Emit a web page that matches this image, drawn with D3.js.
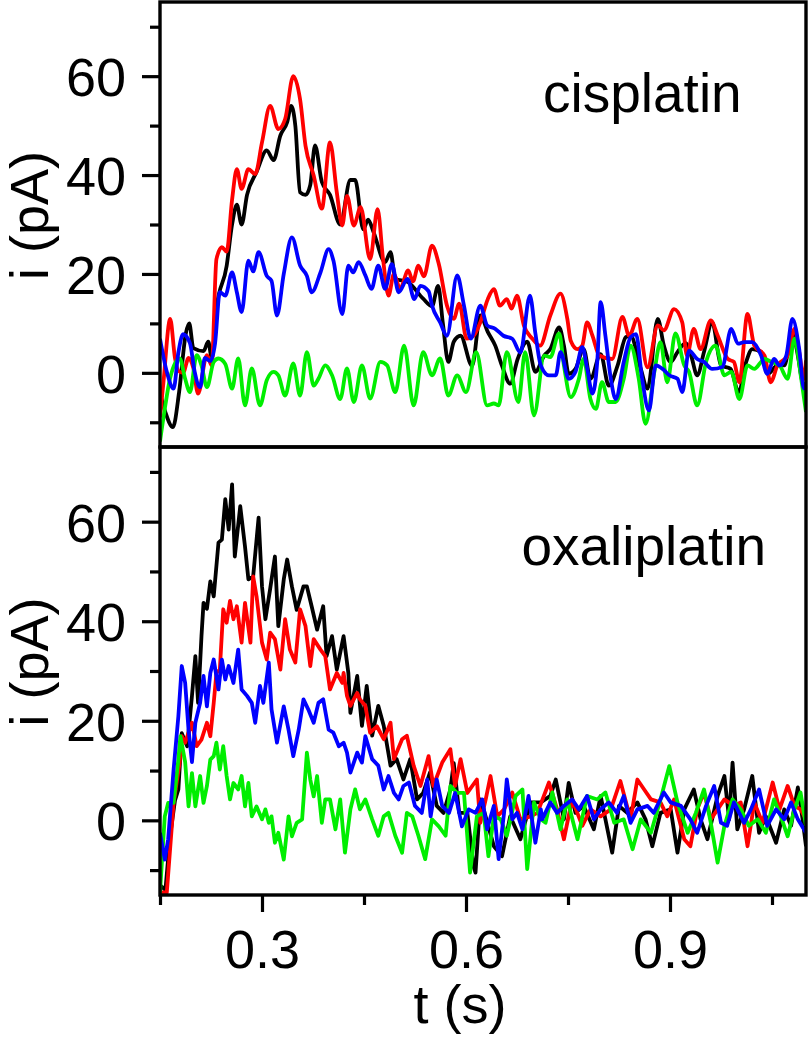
<!DOCTYPE html>
<html>
<head>
<meta charset="utf-8">
<script src="https://cdn.jsdelivr.net/npm/d3@7"></script>
<style>
  body { margin: 0; background: #fff; }
  svg { display: block; }
  text { font-family: "Liberation Sans", Arial, sans-serif; fill: #000; }
</style>
</head>
<body>
<svg class="chart"></svg>
<script>
// current traces, cisplatin (top) and oxaliplatin (bottom), [t (s), i (pA)]
var cisBlack = [[0.15,-4],[0.158,-8],[0.169,-11],[0.178,-4],[0.188,8],[0.193,10],[0.199,5],[0.214,4.4],[0.221,6.3],[0.226,3],[0.233,13],[0.248,21.6],[0.256,30],[0.263,34],[0.27,30],[0.278,36],[0.292,40.6],[0.307,45],[0.317,43],[0.327,48],[0.337,50.7],[0.343,54],[0.349,50],[0.356,36.5],[0.364,36],[0.371,38],[0.378,46],[0.388,38.6],[0.4,36],[0.415,30],[0.43,39],[0.437,39],[0.449,29],[0.456,31],[0.464,28.5],[0.481,22.4],[0.489,24.4],[0.496,19],[0.514,18.4],[0.537,15],[0.55,13.5],[0.559,17.6],[0.566,10],[0.574,2.2],[0.582,6.3],[0.592,7.5],[0.609,1.4],[0.621,11.6],[0.632,8.3],[0.643,5.5],[0.653,1.4],[0.665,-2.2],[0.676,2.8],[0.69,6.3],[0.702,0.2],[0.715,3.5],[0.724,4.8],[0.737,9.2],[0.744,5.5],[0.751,-0.2],[0.761,0.8],[0.773,4.8],[0.783,-1.2],[0.798,3.8],[0.81,-2.6],[0.823,1.5],[0.835,7.2],[0.842,7.5],[0.857,0.8],[0.867,-3.2],[0.882,10.9],[0.891,5.5],[0.901,2.2],[0.911,4.2],[0.923,6],[0.931,3.5],[0.94,-0.5],[0.95,4.2],[0.962,10.2],[0.975,1.5],[0.989,0.8],[1.001,-3.9],[1.012,2.2],[1.021,4.8],[1.034,4.2],[1.044,-0.2],[1.058,1.5],[1.068,1.5],[1.08,8.2],[1.088,3.5],[1.095,-2],[1.1,-3]];
var cisRed = [[0.15,-9],[0.155,-2],[0.165,10.9],[0.172,3],[0.177,0.4],[0.184,0],[0.192,3],[0.199,1],[0.206,-4.2],[0.219,3.6],[0.226,1.5],[0.233,23],[0.241,25.4],[0.248,24.5],[0.256,35],[0.263,41.2],[0.27,37.2],[0.28,41.2],[0.29,40.2],[0.3,46.6],[0.312,54],[0.324,49.3],[0.334,51.3],[0.346,60],[0.356,55.3],[0.364,45.9],[0.376,39.9],[0.388,33.2],[0.4,46.6],[0.41,36.5],[0.418,29.8],[0.425,35.8],[0.435,29.8],[0.445,33.5],[0.459,23],[0.47,33.1],[0.478,23],[0.486,15.6],[0.494,20],[0.503,17],[0.515,20.7],[0.522,18.5],[0.53,21.7],[0.538,19.5],[0.55,25.7],[0.56,22],[0.572,13.6],[0.582,10.9],[0.59,14],[0.601,6.9],[0.611,7.5],[0.621,10.2],[0.632,14.9],[0.641,16.9],[0.65,13.6],[0.66,14.9],[0.667,13],[0.675,15.6],[0.685,9.6],[0.697,7],[0.709,5.5],[0.724,11.6],[0.739,16],[0.749,10.9],[0.754,6.5],[0.764,4.8],[0.771,5.5],[0.778,10.2],[0.786,7.5],[0.796,3.5],[0.815,2.8],[0.83,11.3],[0.84,7.5],[0.852,10.9],[0.867,1.1],[0.882,9.6],[0.891,8.6],[0.906,12.9],[0.918,10.2],[0.925,3.5],[0.935,8.9],[0.945,4.8],[0.96,10.6],[0.97,7.6],[0.985,2.8],[0.994,2.2],[1.002,-1.9],[1.014,11.9],[1.024,5.5],[1.039,3.5],[1.048,-1.9],[1.058,1.5],[1.073,3.5],[1.083,8.9],[1.09,4.2],[1.097,-1.2],[1.1,2.5]];
var cisBlue = [[0.15,6.9],[0.16,0.2],[0.17,-3.2],[0.177,4.1],[0.184,7.8],[0.194,6],[0.201,0.2],[0.209,-2.9],[0.216,3],[0.224,2.4],[0.231,6],[0.238,16.3],[0.246,15.6],[0.256,20.3],[0.263,16.3],[0.27,12.3],[0.28,22.7],[0.287,20.5],[0.295,24.4],[0.307,19.6],[0.314,18.6],[0.322,11.6],[0.332,20],[0.344,27.4],[0.356,21.7],[0.366,19.6],[0.373,16.3],[0.386,20.3],[0.398,25],[0.405,22.7],[0.418,11.9],[0.427,21.7],[0.434,20.3],[0.442,22.4],[0.452,19.7],[0.461,17],[0.471,21.7],[0.481,17],[0.491,22],[0.501,16.3],[0.514,19],[0.524,14.9],[0.533,17.6],[0.545,16.5],[0.55,13.6],[0.562,10.2],[0.572,7.5],[0.587,19.7],[0.597,13.6],[0.607,6.9],[0.621,13.6],[0.631,9.6],[0.643,8.9],[0.655,7.5],[0.668,6.9],[0.68,4.1],[0.694,15.6],[0.702,8],[0.71,1.5],[0.722,-0.5],[0.732,-0.5],[0.739,4.2],[0.751,-1.2],[0.761,0.2],[0.771,5.2],[0.778,1],[0.786,-4.2],[0.793,2.2],[0.798,14.3],[0.805,7.5],[0.813,-1.2],[0.82,-5.3],[0.832,2.2],[0.842,7.2],[0.85,7.8],[0.859,-1.2],[0.869,-7.6],[0.879,1.5],[0.889,0.8],[0.899,-0.5],[0.911,-1.2],[0.918,-3.9],[0.928,4.5],[0.94,2.8],[0.95,2.2],[0.962,0.8],[0.977,1.2],[0.99,8.9],[1.0,5.9],[1.009,6.2],[1.021,6.2],[1.034,3.5],[1.043,-0.2],[1.053,2.8],[1.061,1.5],[1.071,3.5],[1.08,10.9],[1.09,4.8],[1.097,-3.2],[1.1,-2]];
var cisGreen = [[0.15,-13.9],[0.157,-7.3],[0.165,-1],[0.179,2.9],[0.187,-1.2],[0.194,-3.9],[0.204,3.6],[0.211,1.5],[0.219,-2.9],[0.229,2.2],[0.236,2.9],[0.246,1.8],[0.256,-3.2],[0.265,2.9],[0.275,-6.6],[0.285,0.9],[0.297,-6.6],[0.307,-1.5],[0.317,0.2],[0.324,-0.5],[0.334,-4.6],[0.346,1.9],[0.356,-4.6],[0.366,4.2],[0.376,-2.6],[0.383,-1.2],[0.393,1.5],[0.403,-0.5],[0.415,-5.3],[0.425,0.9],[0.435,-5.9],[0.447,1.5],[0.459,-5.2],[0.474,2.2],[0.484,1.5],[0.496,-3.9],[0.509,5.5],[0.523,-6.6],[0.537,4.2],[0.55,-0.5],[0.562,2.9],[0.574,-4.6],[0.587,-0.5],[0.6,-3.9],[0.615,4.2],[0.631,-6.6],[0.641,-6.2],[0.648,-6.6],[0.66,4.2],[0.677,-5.9],[0.687,4.2],[0.7,-8.6],[0.715,3.5],[0.724,3.2],[0.737,8],[0.744,1.5],[0.754,-4.9],[0.766,-1.2],[0.773,2.8],[0.783,-5.3],[0.791,-7.3],[0.8,-1.9],[0.81,-5.9],[0.82,-5.9],[0.832,-1.2],[0.842,5.5],[0.854,-1.2],[0.864,-10.3],[0.877,0.2],[0.886,6.2],[0.896,-1.9],[0.908,8],[0.921,1.5],[0.928,0.2],[0.94,-6.6],[0.953,2.2],[0.967,5.5],[0.98,-0.5],[0.99,0.2],[1.002,-5.3],[1.014,1.5],[1.024,0.8],[1.039,2.8],[1.049,2.2],[1.061,1.5],[1.073,-1.2],[1.083,6.9],[1.093,-1.2],[1.1,-7.9]];

var oxaBlack = [[0.15,-13],[0.158,-14],[0.165,-3],[0.172,4],[0.177,6.2],[0.182,17.5],[0.19,14.9],[0.197,25],[0.202,33],[0.206,23.6],[0.211,37],[0.214,43.7],[0.219,42.5],[0.224,48],[0.229,45],[0.236,55.8],[0.241,56.4],[0.246,64.5],[0.251,58.4],[0.256,67.5],[0.26,53],[0.268,63.1],[0.275,55],[0.28,48.4],[0.287,49],[0.295,60.8],[0.3,47],[0.305,40.4],[0.312,46.5],[0.319,53],[0.324,39],[0.332,48.4],[0.337,52.4],[0.344,47],[0.351,42.3],[0.361,47],[0.366,47],[0.373,43],[0.381,38.3],[0.39,43],[0.395,33],[0.403,37],[0.41,30.3],[0.42,37],[0.427,29.6],[0.43,21.6],[0.44,29],[0.447,19],[0.454,27],[0.462,17],[0.471,23],[0.479,19],[0.489,11],[0.498,12.3],[0.508,8.2],[0.518,12.3],[0.528,4.2],[0.537,5.5],[0.547,9.6],[0.557,2.9],[0.567,1.5],[0.577,6.2],[0.582,11.5],[0.59,1.5],[0.602,1.5],[0.611,-9.2],[0.614,-10.5],[0.621,4.2],[0.626,2.2],[0.641,-5.2],[0.653,-7.2],[0.665,0.8],[0.68,-3.8],[0.695,3.6],[0.71,3.6],[0.724,4.9],[0.732,8.2],[0.744,0.2],[0.751,7.5],[0.761,1.5],[0.773,2.9],[0.788,-1.8],[0.798,4.9],[0.815,-6.5],[0.825,2.9],[0.837,1.5],[0.852,3.6],[0.864,0.2],[0.874,-5.2],[0.886,1.5],[0.901,2.2],[0.911,-6.5],[0.921,2.2],[0.935,6.2],[0.945,0.2],[0.955,-3.8],[0.97,4.9],[0.98,8.9],[0.987,0.2],[0.992,11.6],[0.999,-1.8],[1.009,2.2],[1.021,8.9],[1.031,-2.5],[1.041,0.8],[1.056,-4.5],[1.068,2.2],[1.078,-1.1],[1.088,6.6],[1.095,0.2],[1.1,-5.2]];
var oxaRed = [[0.15,-14.5],[0.16,-14.5],[0.17,3.5],[0.179,11.7],[0.182,16.9],[0.187,15.6],[0.197,19.6],[0.204,14.9],[0.211,16.2],[0.219,19.6],[0.224,16.9],[0.229,23.6],[0.233,29.6],[0.238,30.3],[0.243,42.4],[0.248,39.7],[0.253,44.1],[0.258,40.4],[0.263,43],[0.27,35.7],[0.275,43.7],[0.283,35.7],[0.287,49],[0.292,45],[0.3,35.7],[0.307,32.3],[0.312,37.7],[0.319,36.4],[0.327,30.3],[0.334,40.4],[0.341,34.3],[0.349,31.7],[0.356,42.4],[0.364,39],[0.371,31],[0.376,36.4],[0.386,34.3],[0.393,33],[0.4,26.3],[0.41,29.6],[0.418,27.6],[0.42,29.6],[0.425,25],[0.43,23],[0.44,25.6],[0.444,24.3],[0.452,23],[0.459,17.6],[0.469,18.9],[0.479,16.3],[0.489,19.6],[0.494,12.3],[0.506,16.3],[0.513,17],[0.523,11],[0.533,6.9],[0.545,12.9],[0.552,6.9],[0.565,11.6],[0.577,14.3],[0.584,6.9],[0.592,12.3],[0.602,5.5],[0.616,8.2],[0.621,-0.5],[0.629,4.2],[0.636,8.9],[0.646,0.8],[0.656,2.2],[0.668,5.6],[0.68,0.2],[0.695,0.8],[0.705,1.5],[0.722,7.6],[0.734,2.2],[0.744,-3.8],[0.756,4.2],[0.771,-1.1],[0.783,2.2],[0.798,0.8],[0.813,2.2],[0.827,7.9],[0.842,0.2],[0.852,8.2],[0.862,6.2],[0.872,4.2],[0.886,3.6],[0.896,0.8],[0.906,4.2],[0.921,-3.8],[0.93,-5.2],[0.94,2.2],[0.95,5.6],[0.96,0.2],[0.97,2.2],[0.98,4.2],[0.994,2.9],[1.004,3.6],[1.014,-5.2],[1.024,3.6],[1.036,-0.5],[1.051,7.6],[1.061,2.2],[1.073,6.9],[1.083,2.9],[1.092,2.2],[1.1,0.2]];
var oxaBlue = [[0.15,-2.5],[0.157,-7.9],[0.162,-3.8],[0.17,10.2],[0.177,20.9],[0.182,31],[0.187,27.6],[0.192,18.2],[0.197,11.7],[0.202,19.6],[0.209,23.6],[0.214,29],[0.219,22.9],[0.224,29.6],[0.229,32.3],[0.236,26.3],[0.241,32.3],[0.246,28.3],[0.251,31],[0.258,27.6],[0.265,34.3],[0.27,26.3],[0.278,25],[0.285,23.6],[0.29,19.6],[0.297,27],[0.302,23.6],[0.31,31.7],[0.314,22.3],[0.322,15.6],[0.332,22.9],[0.339,18.2],[0.346,12.9],[0.354,18.2],[0.361,24.3],[0.368,22.3],[0.376,19.6],[0.383,23.6],[0.39,24.3],[0.398,18.2],[0.405,17.6],[0.413,14.9],[0.42,15.6],[0.425,13.6],[0.43,9.6],[0.44,13.6],[0.447,11.6],[0.452,16.9],[0.462,12.3],[0.471,11],[0.479,6.2],[0.486,8.9],[0.494,5.5],[0.501,4.2],[0.508,6.9],[0.516,7.6],[0.525,2.9],[0.535,1.5],[0.543,8.2],[0.548,0.8],[0.557,8.2],[0.565,2.9],[0.575,1.5],[0.584,5.5],[0.594,-1.2],[0.604,2.2],[0.614,1.5],[0.624,4.2],[0.631,-1.8],[0.641,2.9],[0.648,-7.8],[0.656,1.5],[0.66,8.2],[0.668,0.2],[0.675,1.5],[0.683,-1.8],[0.692,4.9],[0.702,-4.5],[0.71,2.2],[0.712,0.2],[0.724,3.6],[0.734,1.5],[0.744,2.9],[0.756,4.2],[0.766,2.2],[0.778,4.9],[0.788,0.2],[0.798,2.2],[0.81,3.6],[0.822,1.5],[0.832,4.9],[0.842,-0.5],[0.852,2.2],[0.867,2.9],[0.876,1.5],[0.891,5.6],[0.901,3.6],[0.916,2.9],[0.93,0.2],[0.94,-2.5],[0.953,2.9],[0.965,6.9],[0.975,-0.5],[0.984,-1.1],[0.994,3.6],[1.009,-0.5],[1.019,2.2],[1.031,6.2],[1.043,-1.1],[1.056,2.2],[1.068,0.2],[1.078,3.6],[1.088,0.2],[1.1,-2.5]];
var oxaGreen = [[0.15,-14.5],[0.157,0.8],[0.162,3.5],[0.17,3.5],[0.177,12.2],[0.18,16.9],[0.187,11.7],[0.192,2.8],[0.197,9.5],[0.202,2.8],[0.209,8.9],[0.214,3.5],[0.219,6.9],[0.224,12.2],[0.229,12.9],[0.233,15.6],[0.238,10.2],[0.243,14.9],[0.248,8.9],[0.253,4.2],[0.258,7.5],[0.265,6.2],[0.27,8.9],[0.275,2.8],[0.28,7.5],[0.285,0.8],[0.292,2.8],[0.3,0.2],[0.305,2.2],[0.31,-0.5],[0.314,0.8],[0.319,-4.5],[0.324,-2.5],[0.332,-7.9],[0.339,0.8],[0.344,-3.2],[0.351,-0.5],[0.359,0.2],[0.366,13.6],[0.371,8.2],[0.376,4.8],[0.381,8.9],[0.388,-0.5],[0.393,4.2],[0.4,4.2],[0.408,-1.8],[0.415,4.2],[0.422,-6.5],[0.43,2.2],[0.437,6.2],[0.444,2.2],[0.452,4.2],[0.462,0.2],[0.471,-3.1],[0.479,0.8],[0.486,1.5],[0.496,-3.1],[0.506,-6.5],[0.513,1.5],[0.521,0.8],[0.53,-3.1],[0.54,-7.8],[0.55,0.2],[0.56,-1.2],[0.57,-3.1],[0.577,6.9],[0.587,5.5],[0.597,5.5],[0.606,-10.5],[0.616,0.8],[0.626,1.5],[0.633,-7.2],[0.641,0.8],[0.651,0.2],[0.66,-3.1],[0.673,4.9],[0.683,6.2],[0.69,-9.8],[0.7,3.6],[0.71,0.2],[0.717,-0.5],[0.727,5.6],[0.739,-1.8],[0.749,4.2],[0.764,-3.8],[0.778,4.9],[0.793,4.2],[0.805,5.6],[0.818,-0.5],[0.832,0.2],[0.845,-5.8],[0.857,0.2],[0.872,-2.5],[0.886,4.2],[0.899,10.9],[0.911,3.6],[0.926,-2.5],[0.938,1.5],[0.95,6.2],[0.96,-0.5],[0.97,-8.5],[0.98,-1.1],[0.992,4.2],[1.004,2.2],[1.016,-1.1],[1.029,0.2],[1.041,-2.5],[1.053,4.2],[1.063,0.8],[1.073,-3.2],[1.083,2.2],[1.092,5.6],[1.1,-1.1]];

var tMajor = [0.3, 0.6, 0.9];
var tMinor = [0.15, 0.45, 0.75, 1.05];
var iMajor = [0, 20, 40, 60];
var iMinor = [-10, 10, 30, 50, 70];
var colors = ["#000000", "#ff0000", "#0000ff", "#00ee00"];

var W = 810, H = 1040;
var left = 160, right = 806;
var panels = [
  {name: "cisplatin", top: 2, bottom: 447, series: [cisBlack, cisRed, cisGreen, cisBlue],
   colors: [colors[0], colors[1], colors[3], colors[2]], curve: d3.curveMonotoneX, lx: 543, ly: 112},
  {name: "oxaliplatin", top: 447, bottom: 895, series: [oxaBlack, oxaRed, oxaGreen, oxaBlue],
   colors: [colors[0], colors[1], colors[3], colors[2]], curve: d3.curveLinear, lx: 766, ly: 565, anchor: "end"}
];

var svg = d3.select(".chart")
    .attr("width", W)
    .attr("height", H);

var x = d3.scaleLinear().domain([0.15, 1.1]).range([left, right]);

var fs = 54;

panels.forEach(function (p, k) {
  var y = d3.scaleLinear().domain([-15, 75]).range([p.bottom, p.top]);

  svg.append("clipPath").attr("id", "clip" + k)
    .append("rect")
    .attr("x", left).attr("y", p.top)
    .attr("width", right - left).attr("height", p.bottom - p.top);

  var line = d3.line()
      .x(function (d) { return x(d[0]); })
      .y(function (d) { return y(d[1]); })
      .curve(p.curve);

  var g = svg.append("g").attr("clip-path", "url(#clip" + k + ")");
  g.selectAll("path")
    .data(p.series)
    .enter().append("path")
    .attr("d", line)
    .attr("fill", "none")
    .attr("stroke", function (d, i) { return p.colors[i]; })
    .attr("stroke-width", 3.8)
    .attr("stroke-linejoin", "round");

  // y axis, major + minor ticks
  var yMaj = svg.append("g")
      .attr("transform", "translate(" + left + ",0)")
      .call(d3.axisLeft(y).tickValues(iMajor).tickSize(18).tickPadding(16).tickFormat(d3.format("d")));
  var yMin = svg.append("g")
      .attr("transform", "translate(" + left + ",0)")
      .call(d3.axisLeft(y).tickValues(iMinor).tickSize(10).tickFormat(""));
  [yMaj, yMin].forEach(function (a) {
    a.select(".domain").remove();
    a.selectAll("line").attr("stroke", "#000").attr("stroke-width", 3.2);
  });
  yMaj.selectAll("text")
    .style("font-size", fs + "px")
    .style("font-family", "'Liberation Sans', Arial, sans-serif")
    .attr("dy", "0.36em");

  svg.append("text")
    .attr("transform", "translate(48," + ((p.top + p.bottom) / 2 - 9) + ") rotate(-90)")
    .attr("text-anchor", "middle")
    .style("font-size", fs + "px")
    .text("i (pA)");

  svg.append("text")
    .attr("x", p.lx)
    .attr("y", p.ly)
    .attr("text-anchor", p.anchor || "start")
    .style("font-size", "55px")
    .text(p.name);

  svg.append("rect")
    .attr("x", left).attr("y", p.top)
    .attr("width", right - left).attr("height", p.bottom - p.top)
    .attr("fill", "none")
    .attr("stroke", "#000")
    .attr("stroke-width", 3.4);
});

// shared time axis
var xMaj = svg.append("g")
    .attr("transform", "translate(0,895)")
    .call(d3.axisBottom(x).tickValues(tMajor).tickSize(17).tickPadding(8).tickFormat(d3.format(".1f")));
var xMin = svg.append("g")
    .attr("transform", "translate(0,895)")
    .call(d3.axisBottom(x).tickValues(tMinor).tickSize(10).tickFormat(""));
[xMaj, xMin].forEach(function (a) {
  a.select(".domain").remove();
  a.selectAll("line").attr("stroke", "#000").attr("stroke-width", 3.2);
});
xMaj.selectAll("text")
  .style("font-size", fs + "px")
  .style("font-family", "'Liberation Sans', Arial, sans-serif")
  .attr("y", 0)
  .attr("dy", 0)
  .attr("transform", "translate(0,73)");

svg.append("text")
  .attr("x", 460)
  .attr("y", 1023)
  .attr("text-anchor", "middle")
  .style("font-size", fs + "px")
  .text("t (s)");
</script>
</body>
</html>
